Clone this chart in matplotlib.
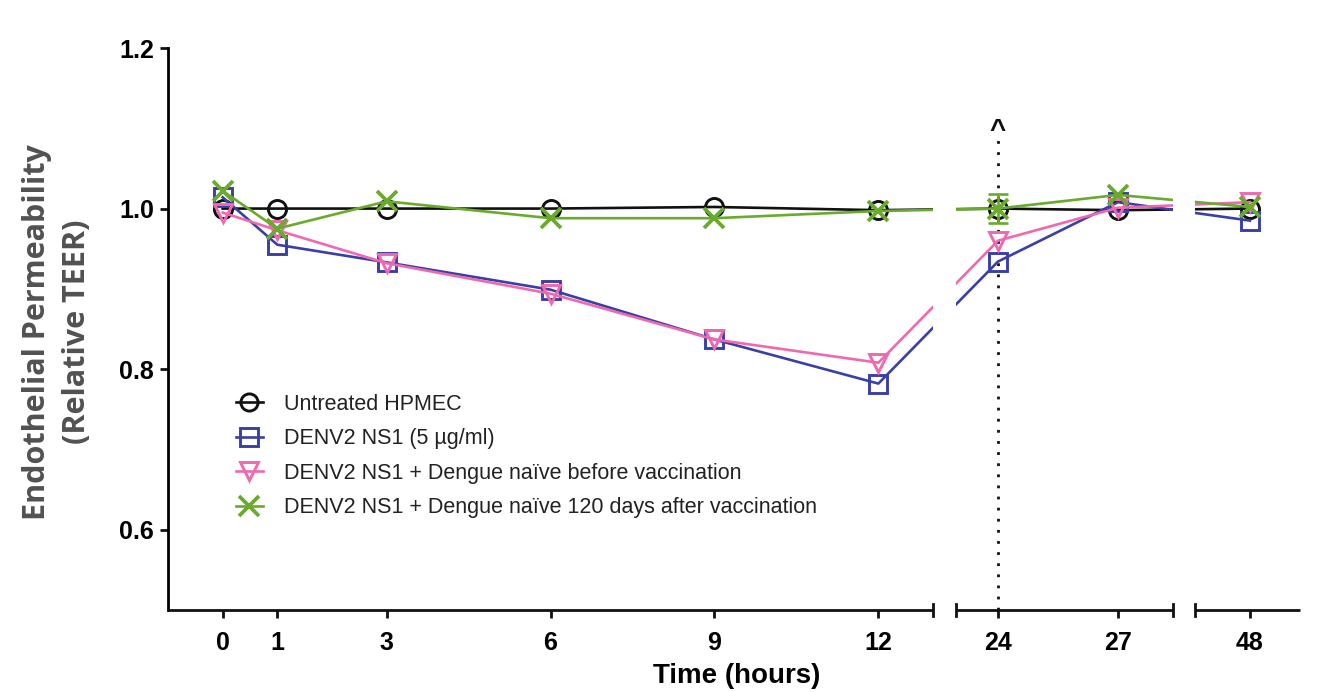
import numpy as np
import matplotlib
matplotlib.use("Agg")
import matplotlib.pyplot as plt

# --- data -------------------------------------------------------------
hours = [0, 1, 3, 6, 9, 12, 24, 27, 48]
tick_labels = ["0", "1", "3", "6", "9", "12", "24", "27", "48"]

untreated = [1.000, 1.000, 1.000, 1.000, 1.002, 0.998, 1.000, 0.998, 1.000]
ns1 = [1.014, 0.955, 0.933, 0.899, 0.837, 0.782, 0.934, 1.008, 0.985]
ns1_before = [0.995, 0.973, 0.932, 0.894, 0.837, 0.808, 0.960, 1.001, 1.008]
ns1_after120 = [1.022, 0.975, 1.009, 0.988, 0.988, 0.997, 1.000, 1.017, 1.002]
after120_err_24h = 0.018

labels = [
    "Untreated HPMEC",
    "DENV2 NS1 (5 µg/ml)",
    "DENV2 NS1 + Dengue naïve before vaccination",
    "DENV2 NS1 + Dengue naïve 120 days after vaccination",
]

# --- broken time axis: data breakpoints -> screen pixels ----------------
SEG_DATA = np.array([-1.0, 13.0, 22.95, 28.375, 46.625, 49.25])
SEG_PX = np.array([168.0, 933.0, 956.0, 1173.0, 1195.0, 1300.0])


def _piecewise(x, xp, fp):
    x = np.asarray(x, dtype=float)
    y = np.interp(x, xp, fp)
    s0 = (fp[1] - fp[0]) / (xp[1] - xp[0])
    s1 = (fp[-1] - fp[-2]) / (xp[-1] - xp[-2])
    y = np.where(x < xp[0], fp[0] + (x - xp[0]) * s0, y)
    y = np.where(x > xp[-1], fp[-1] + (x - xp[-1]) * s1, y)
    return y


def fwd(x):
    return _piecewise(x, SEG_DATA, SEG_PX)


def inv(v):
    return _piecewise(v, SEG_PX, SEG_DATA)


# --- figure -------------------------------------------------------------
W, H = 1325, 692
fig = plt.figure(figsize=(W / 100, H / 100), dpi=100)
ax = fig.add_axes([168 / W, 82 / H, (1300 - 168) / W, (610 - 48) / H])
ax.set_xscale("function", functions=(fwd, inv))
ax.set_xlim(SEG_DATA[0], SEG_DATA[-1])
ax.set_ylim(0.5, 1.2)

black = "#111111"
blue = "#3a3fa6"
pink = "#f069b0"
green = "#6aaa2c"

lw = 1.9
mew = 2.1
ms = 13

ax.plot(hours, untreated, color=black, lw=lw, marker="o", ms=ms, mew=mew,
        mfc="none", mec=black, label=labels[0], zorder=3)
ax.plot(hours, ns1, color=blue, lw=lw, marker="s", ms=ms, mew=mew,
        mfc="none", mec=blue, label=labels[1], zorder=3.1)
ax.plot(hours, ns1_before, color=pink, lw=lw, marker="v", ms=ms, mew=mew,
        mfc="none", mec=pink, label=labels[2], zorder=3.2)
ax.plot(hours, ns1_after120, color=green, lw=lw, marker="x", ms=ms + 2,
        mew=mew + 0.6, mec=green, label=labels[3], zorder=3.3)
i24 = hours.index(24)
ax.errorbar([24], [ns1_after120[i24]], yerr=after120_err_24h, fmt="none",
            ecolor=green, elinewidth=lw, capsize=7, capthick=lw, zorder=3.3)

# dotted marker line at 24 h with caret
ax.plot([24, 24], [0.5, 1.09], color=black, lw=2, ls=(0, (1, 3)),
        zorder=2, clip_on=False)
ax.text(24, 1.096, "^", ha="center", va="center", fontsize=20,
        fontweight="bold", family="Liberation Sans", color=black)

# blank gaps at the axis breaks
for a, b in [(SEG_DATA[1], SEG_DATA[2]), (SEG_DATA[3], SEG_DATA[4])]:
    ax.axvspan(a, b, color="white", zorder=4, lw=0)

# spines and broken bottom axis
for side in ["top", "right", "bottom"]:
    ax.spines[side].set_visible(False)
ax.spines["left"].set_linewidth(2)
xt = ax.get_xaxis_transform()
for a, b in [(SEG_DATA[0], SEG_DATA[1]), (SEG_DATA[2], SEG_DATA[3]),
             (SEG_DATA[4], SEG_DATA[5])]:
    ax.plot([a, b], [0, 0], color=black, lw=2, transform=xt, clip_on=False,
            zorder=6, solid_capstyle="butt")
for xb in SEG_DATA[1:5]:
    ax.plot([xb, xb], [-0.011, 0.011], color=black, lw=2, transform=xt,
            clip_on=False, zorder=6)

ax.set_xticks(hours)
ax.set_xticklabels(tick_labels)
ax.set_yticks([0.6, 0.8, 1.0, 1.2])
ax.set_yticklabels(["0.6", "0.8", "1.0", "1.2"])
ax.tick_params(axis="both", direction="out", length=6, width=2, color=black,
               labelsize=18)
ax.tick_params(axis="x", pad=9)
ax.tick_params(axis="y", pad=4)
ax.xaxis.set_minor_locator(matplotlib.ticker.NullLocator())
for t in ax.get_xticklabels() + ax.get_yticklabels():
    t.set_fontweight("bold")
    t.set_family("Liberation Sans")

fig.text(737 / W, 1 - 676 / H, "Time (hours)", ha="center", va="center",
         fontsize=20, fontweight="bold", family="Liberation Sans")
fig.text(57 / W, 1 - 332 / H, "Endothelial Permeability\n(Relative TEER)",
         rotation=90, ha="center", va="center", multialignment="center",
         fontsize=22, fontweight="bold", family="Open Sans", color="#515151",
         linespacing=1.45)

leg = ax.legend(loc="upper left", bbox_to_anchor=(236 / W, 1 - 394 / H),
                bbox_transform=fig.transFigure, frameon=False,
                handlelength=1.25, handletextpad=1.0, labelspacing=0.62,
                borderaxespad=0, borderpad=0, markerscale=0.95,
                prop={"family": "Liberation Sans", "size": 15.5})
for t in leg.get_texts():
    t.set_color("#222222")
leg.set_zorder(7)

fig.savefig("out.png", dpi=100, facecolor="white")
